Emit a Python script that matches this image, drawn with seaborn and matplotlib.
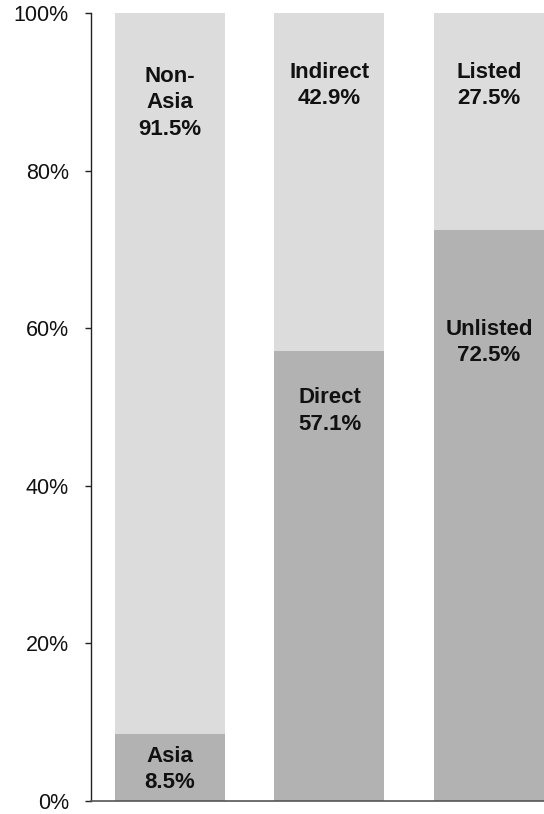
import matplotlib
matplotlib.use("Agg")
import matplotlib.pyplot as plt
import seaborn as sns
import pandas as pd

sns.set_theme(style="white")
plt.rcParams['font.family'] = ['Liberation Sans', 'DejaVu Sans']

# Data
groups = ["Region", "Channel", "Listing"]
bottom_labels = ["Asia", "Direct", "Unlisted"]
bottom_values = [8.5, 57.1, 72.5]
top_labels = ["Non-\nAsia", "Indirect", "Listed"]
top_values = [91.5, 42.9, 27.5]
yticks = [0, 20, 40, 60, 80, 100]
# label anchor heights (percent)
top_label_y = [88.6, 90.8, 90.8]
bottom_label_y = [4.0, 49.5, 58.2]

dark = "#b2b2b2"
light = "#dcdcdc"

df = pd.DataFrame({
    "group": groups,
    "bottom": bottom_values,
    "total": [b + t for b, t in zip(bottom_values, top_values)],
})

fig = plt.figure(figsize=(5.44, 8.14), dpi=100)
ax = fig.add_axes([91 / 544, 13 / 814, 1 - 91 / 544, 788 / 814])

sns.barplot(data=df, x="group", y="total", color=light, width=0.69,
            saturation=1, ax=ax, edgecolor="none", linewidth=0)
sns.barplot(data=df, x="group", y="bottom", color=dark, width=0.69,
            saturation=1, ax=ax, edgecolor="none", linewidth=0)

for i in range(len(groups)):
    ax.text(i, top_label_y[i], f"{top_labels[i]}\n{top_values[i]:.1f}%",
            ha="center", va="center", fontsize=16, fontweight="bold",
            color="#111111", linespacing=1.35)
    ax.text(i, bottom_label_y[i], f"{bottom_labels[i]}\n{bottom_values[i]:.1f}%",
            ha="center", va="center", fontsize=16, fontweight="bold",
            color="#111111", linespacing=1.35)

ax.set_ylim(0, 100)
ax.set_xlim(-0.495, 2.345)
ax.set_yticks(yticks)
ax.set_yticklabels([f"{v}%" for v in yticks], fontsize=15.5, color="#111111")
ax.set_xticks([])
ax.set_xlabel("")
ax.set_ylabel("")
ax.tick_params(axis="y", direction="out", length=4, width=1, color="#222222",
               left=True, pad=12)
for s in ["top", "right"]:
    ax.spines[s].set_visible(False)
ax.spines["left"].set_color("#222222")
ax.spines["left"].set_linewidth(1)
ax.spines["bottom"].set_color("#555555")
ax.spines["bottom"].set_linewidth(1.2)
ax.patch.set_alpha(0)
ax.grid(False)

fig.savefig("out.png", dpi=100)
